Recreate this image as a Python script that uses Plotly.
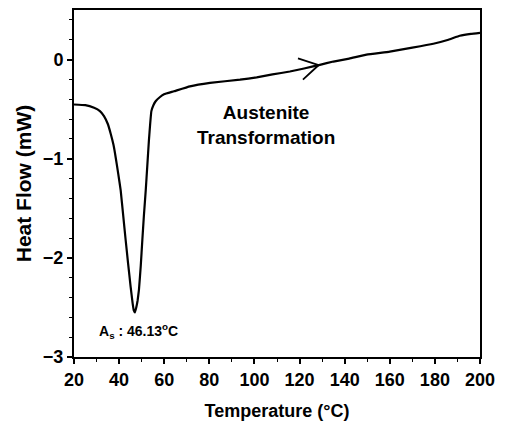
import plotly.graph_objects as go

temperature = [20, 25, 28.9, 31.5, 33.3, 35, 36.3, 37.5, 38.5, 39.6, 40.7, 41.8, 42.9, 44.0, 45.1, 46.0, 46.5,
               47.0, 47.6, 48.2, 48.8, 49.6, 50.3, 51.0, 51.8, 52.5, 53.2, 53.8, 54.3, 55.2, 56.2, 58, 59.9,
               64.3, 71.4, 80.3, 93.6, 101, 108, 115.7, 122, 129, 135, 142, 149.7, 160, 170, 179.3, 186,
               191, 196, 200]
heat_flow = [-0.453, -0.46, -0.487, -0.52, -0.57, -0.65, -0.75, -0.86, -0.99, -1.15, -1.32, -1.57, -1.82,
             -2.06, -2.29, -2.46, -2.53, -2.55, -2.50, -2.43, -2.32, -2.08, -1.82, -1.57, -1.32, -1.07,
             -0.82, -0.64, -0.52, -0.46, -0.42, -0.38, -0.35, -0.32, -0.27, -0.235, -0.203, -0.18, -0.15,
             -0.12, -0.09, -0.053, -0.02, 0.01, 0.05, 0.08, 0.12, 0.16, 0.20, 0.24, 0.26, 0.27]

x_ticks = [20, 40, 60, 80, 100, 120, 140, 160, 180, 200]
y_ticks = [-3, -2, -1, 0]

# open chevron arrow marking heating direction (tip, upper arm, lower arm)
arrow_tip = (128.5, -0.055)
arrow_up = (119.3, 0.013)
arrow_dn = (121.5, -0.203)

FONT = "Liberation Sans"

fig = go.Figure()
fig.add_trace(go.Scatter(x=temperature, y=heat_flow, mode="lines",
                         line=dict(color="black", width=2.2, shape="spline", smoothing=0.3),
                         showlegend=False, hoverinfo="skip"))

fig.add_shape(type="path",
              path=f"M {arrow_up[0]},{arrow_up[1]} L {arrow_tip[0]},{arrow_tip[1]} L {arrow_dn[0]},{arrow_dn[1]}",
              line=dict(color="black", width=1.8), xref="x", yref="y")

fig.add_annotation(x=105, y=-0.655, text="<b>Austenite<br>Transformation</b>", showarrow=False,
                   font=dict(family=FONT, size=19, color="black"), align="center")
fig.add_annotation(x=30.2, y=-2.74, text="<b>A<sub>s</sub> : 46.13<sup>o</sup>C</b>", showarrow=False,
                   xanchor="left", font=dict(family=FONT, size=14, color="black"))

axis_common = dict(showline=True, linecolor="black", linewidth=2, mirror=True, showgrid=False,
                   zeroline=False, ticks="outside", ticklen=5, tickwidth=1.5, tickcolor="black",
                   tickfont=dict(family=FONT, size=18, color="black", weight="bold"))

fig.update_xaxes(range=[20, 200], tickvals=x_ticks,
                 minor=dict(dtick=10, ticks="outside", ticklen=3, tickcolor="black", tickwidth=1),
                 title=dict(text="Temperature (°C)", font=dict(family=FONT, size=18, color="black", weight="bold"),
                            standoff=16),
                 **axis_common)
fig.update_yaxes(range=[-3, 0.5], tickvals=y_ticks,
                 minor=dict(dtick=0.2, tick0=0, ticks="outside", ticklen=3, tickcolor="black", tickwidth=1),
                 title=dict(text="Heat Flow (mW)", font=dict(family=FONT, size=21, color="black", weight="bold"),
                            standoff=6),
                 **axis_common)

fig.update_layout(width=506, height=426, margin=dict(l=74, r=26, t=8, b=68),
                  plot_bgcolor="white", paper_bgcolor="white")

fig.write_html("out.html")
